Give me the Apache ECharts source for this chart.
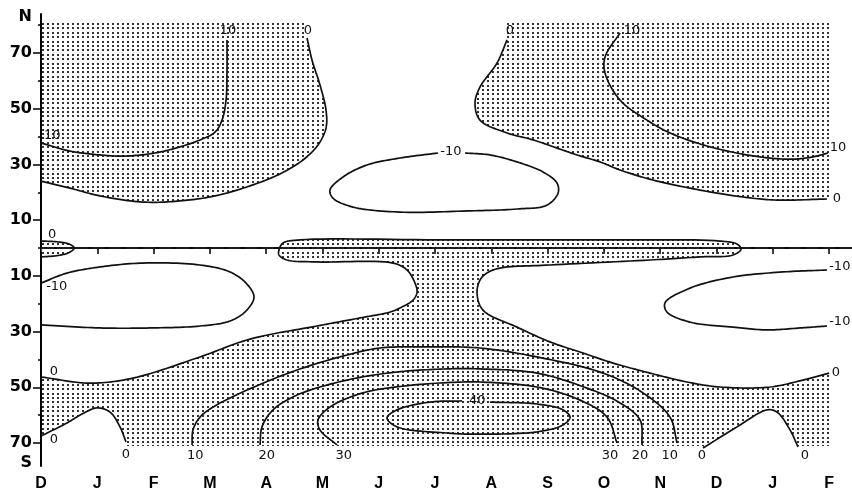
<!DOCTYPE html>
<html><head><meta charset="utf-8">
<script src="https://cdn.jsdelivr.net/npm/echarts@6/dist/echarts.min.js"></script>
<style>html,body{margin:0;padding:0;background:#fff}#c{width:852px;height:499px}</style>
</head><body><div id="c"></div>
<script>
// ---- axis labels ----
const months = ['D','J','F','M','A','M','J','J','A','S','O','N','D','J','F'];
const monthTicks = [0,1,2,3,4,5,6,7,8,9,10,11,12,13,14];
const latLabelValues = [-70,-50,-30,-10,10,30,50,70];
const latMinorTicks = [-70,-60,-50,-40,-30,-20,-10,0,10,20,30,40,50,60,70,80];
const poleLabels = [[82.9,'N'],[-77.2,'S']];

// ---- contours: [month index (0 = Dec), latitude (+N / -S)] ----
const c_n0_west = [[0,24.0],[0.515,21.5],[1.048,18.7],[1.812,16.5],[2.469,16.9],[3.091,18.7],[3.713,22.3],[4.246,26.6],[4.654,31.6],[4.921,37.0],[5.063,43.1],[5.063,49.5],[4.956,58.5],[4.814,67.5],[4.726,75.4]];
const c_n10_west = [[0,37.7],[0.515,34.8],[1.048,33.4],[1.492,33.0],[2.025,34.1],[2.469,36.3],[2.825,38.8],[3.091,41.6],[3.216,45.9],[3.287,53.1],[3.304,63.9],[3.304,74.7]];
const c_n0_east = [[8.279,74.7],[8.101,66.4],[7.799,57.8],[7.710,52.0],[7.799,45.9],[8.279,41.3],[8.740,38.8],[9.522,33.4],[9.931,30.9],[10.286,28.0],[10.872,24.4],[11.707,20.8],[12.471,18.3],[13.075,17.2],[13.963,17.6]];
const c_n10_east = [[10.286,77.2],[10.020,68.6],[10.020,62.8],[10.286,53.1],[10.766,45.9],[11.174,41.3],[11.885,36.3],[12.773,32.7],[13.359,31.9],[13.715,32.7],[13.981,34.1]];
const c_n_m10 = [[7.532,34.1],[7.977,33.4],[8.456,30.9],[8.918,27.3],[9.167,23.3],[9.185,19.7],[8.989,15.4],[8.456,14.0],[7.568,13.3],[6.378,12.9],[5.543,14.7],[5.187,17.9],[5.134,20.8],[5.365,25.5],[5.791,29.8],[6.378,32.3],[7.053,34.1]];
const c_equator = [[0,0],[14.407,0]];
const c_s0_eqlobe = [[0,2.5],[0.3,2.2],[0.5,1.4],[0.59,0],[0.5,-1.6],[0.3,-2.7],[0,-3.2]];
const c_s0_main = [[0,-46.3],[0.870,-48.5],[1.634,-46.7],[2.825,-39.1],[3.713,-32.7],[4.903,-28.0],[5.667,-25.1],[6.200,-23.0],[6.378,-21.5],[6.609,-18.7],[6.680,-15.8],[6.644,-12.6],[6.502,-7.9],[6.253,-5.4],[4.903,-5.0],[4.370,-4.3],[4.228,-2.5],[4.228,-0.7],[4.299,1.8],[4.601,2.9],[7.266,2.9],[9.931,2.9],[12.062,2.5],[12.365,1.4],[12.436,-0.4],[12.293,-2.5],[11.707,-3.2],[10.819,-4.3],[9.042,-6.1],[8.154,-7.2],[7.92,-9.0],[7.799,-11.5],[7.746,-16.2],[7.852,-22.3],[8.456,-28.4],[9.042,-33.7],[9.629,-37.7],[10.162,-41.3],[10.819,-44.9],[11.476,-48.1],[12.062,-49.9],[12.951,-49.9],[13.537,-47.4],[14,-44.9]];
const c_s0_lobe_w = [[0,-67.5],[0.462,-62.8],[0.728,-59.6],[0.995,-57.4],[1.226,-58.9],[1.403,-64.2],[1.510,-69.6]];
const c_s0_lobe_e = [[11.761,-71.8],[12.365,-64.2],[12.897,-58.1],[13.075,-58.9],[13.306,-65.3],[13.448,-71.4]];
const c_s_m10_w = [[0,-12.6],[0.462,-9.0],[1.048,-6.8],[1.812,-5.4],[2.825,-6.1],[3.358,-8.6],[3.642,-12.6],[3.784,-17.6],[3.642,-22.6],[3.358,-26.2],[2.825,-28.0],[1.936,-28.7],[1.048,-28.7],[0,-27.6]];
const c_s_m10_e = [[13.963,-7.9],[13.182,-8.6],[12.293,-10.4],[11.530,-14.4],[11.085,-19.7],[11.121,-23.0],[11.530,-26.6],[12.293,-28.4],[12.897,-29.4],[13.484,-28.7],[13.963,-28.0]];
const c_s10 = [[2.683,-70.7],[2.700,-65.3],[2.825,-60.7],[3.056,-57.1],[3.660,-51.0],[4.548,-43.8],[5.436,-38.4],[6.022,-35.9],[6.911,-35.5],[7.799,-35.9],[8.811,-39.1],[9.984,-44.9],[10.694,-52.0],[11.174,-60.7],[11.299,-70.0]];
const c_s20 = [[3.891,-70.7],[3.926,-64.2],[4.122,-58.1],[4.548,-52.8],[5.436,-47.4],[6.324,-44.5],[7.213,-43.4],[7.799,-43.4],[8.811,-44.9],[9.700,-50.3],[10.286,-55.6],[10.641,-61.7],[10.677,-70.7]];
const c_s30 = [[5.258,-70.7],[4.956,-65.3],[4.921,-61.7],[5.134,-57.1],[5.720,-52.0],[6.609,-49.2],[7.497,-48.1],[7.799,-48.1],[8.811,-49.9],[9.575,-54.6],[10.055,-60.7],[10.233,-70.0]];
const c_s40 = [[7.977,-55.3],[8.811,-56.0],[9.273,-58.1],[9.398,-60.7],[9.273,-63.5],[8.811,-66.0],[7.621,-66.8],[7.213,-66.4],[6.324,-64.2],[6.147,-61.0],[6.324,-58.1],[6.911,-55.3],[7.48,-54.9]];

// stippled (positive) region extents
const stippleTop = 81, stippleBottom = -71.1, stippleRight = 14;

// contour value labels: [month, lat, text]
const contourLabels = [
  [0.2,40.2,'10'],[3.32,78.2,'10'],[4.74,78.2,'0'],[8.33,78.2,'0'],[10.50,78.2,'10'],
  [7.28,34.5,'-10'],[14.16,35.9,'10'],[14.14,17.9,'0'],[0.2,4.7,'0'],
  [0.28,-14.0,'-10'],[14.19,-6.8,'-10'],[14.19,-26.6,'-10'],
  [0.23,-44.2,'0'],[14.12,-44.9,'0'],[7.75,-54.9,'40'],
  [0.23,-68.9,'0'],[1.51,-74.3,'0'],[2.74,-74.7,'10'],[4.01,-74.7,'20'],[5.38,-74.7,'30'],
  [10.11,-74.7,'30'],[10.64,-74.7,'20'],[11.17,-74.7,'10'],[11.74,-74.7,'0'],[13.57,-74.7,'0']
];

// ---- build shapes from the contour arrays ----
const rev = a => a.slice().reverse();
const fills = [
  [{pts:c_n0_west,s:true},{pts:[[c_n0_west[c_n0_west.length-1][0],stippleTop],[0,stippleTop]],s:false}],
  [{pts:c_n0_east,s:true},{pts:[[stippleRight,c_n0_east[c_n0_east.length-1][1]],[stippleRight,stippleTop],[c_n0_east[0][0],stippleTop]],s:false}],
  [{pts:c_s0_main,s:true},
   {pts:[[stippleRight,stippleBottom],[c_s0_lobe_e[c_s0_lobe_e.length-1][0],stippleBottom]],s:false},
   {pts:rev(c_s0_lobe_e),s:true},
   {pts:[[c_s0_lobe_e[0][0],stippleBottom],[c_s0_lobe_w[c_s0_lobe_w.length-1][0],stippleBottom]],s:false},
   {pts:rev(c_s0_lobe_w),s:true}],
  [{pts:c_s0_eqlobe,s:true}]
];
const lines = [c_equator,c_n0_west,c_n10_west,c_n0_east,c_n10_east,c_n_m10,c_s0_eqlobe,c_s0_main,c_s0_lobe_w,c_s0_lobe_e,c_s_m10_w,c_s_m10_e,c_s10,c_s20,c_s30,c_s40];

// centripetal Catmull-Rom curve through screen points (rendering only)
function spline(p){
  const n = p.length; if (n < 3) return p.slice();
  const ext = [[2*p[0][0]-p[1][0], 2*p[0][1]-p[1][1]]].concat(p, [[2*p[n-1][0]-p[n-2][0], 2*p[n-1][1]-p[n-2][1]]]);
  const d = (a,b) => Math.max(1e-4, Math.pow(Math.hypot(b[0]-a[0], b[1]-a[1]), 0.5));
  const lerp = (a,b,ta,tb,t) => { const w = (t-ta)/(tb-ta); return [a[0]+(b[0]-a[0])*w, a[1]+(b[1]-a[1])*w]; };
  const out = [];
  for (let i = 1; i < ext.length-2; i++){
    const P0=ext[i-1], P1=ext[i], P2=ext[i+1], P3=ext[i+2];
    const t0=0, t1=t0+d(P0,P1), t2=t1+d(P1,P2), t3=t2+d(P2,P3);
    const steps = 14;
    for (let s = 0; s < steps; s++){
      const t = t1 + (t2-t1)*s/steps;
      const A1=lerp(P0,P1,t0,t1,t), A2=lerp(P1,P2,t1,t2,t), A3=lerp(P2,P3,t2,t3,t);
      const B1=lerp(A1,A2,t0,t2,t), B2=lerp(A2,A3,t1,t3,t);
      out.push(lerp(B1,B2,t1,t2,t));
    }
  }
  out.push(p[n-1]);
  return out;
}

const pat = document.createElement('canvas'); pat.width = 5; pat.height = 22;
(function(){ const g = pat.getContext('2d'); g.fillStyle = '#333'; [0,4,9,13,18].forEach(y => g.fillRect(2, y+1, 2, 2)); })();

const chart = echarts.init(document.getElementById('c'), null, {renderer:'canvas'});
chart.setOption({
  animation: false,
  backgroundColor: '#fff',
  grid: {left: 41, right: 0, top: 14, bottom: 33},
  xAxis: [{
    type: 'value', min: 0, max: 14.407, position: 'bottom',
    axisLine: {show: true, lineStyle: {color: '#000', width: 2}},
    axisTick: {show: true, customValues: monthTicks, length: 6, lineStyle: {color: '#000', width: 1.5}},
    axisLabel: {customValues: monthTicks, formatter: v => months[Math.round(v)], margin: 10,
      color: '#000', fontSize: 16, fontWeight: 'bold', fontFamily: '"Liberation Sans", Arial, sans-serif'},
    splitLine: {show: false}
  },{
    type: 'value', min: 0, max: 14.407, position: 'top',
    axisLine: {show: true, lineStyle: {color: '#333', width: 1.5, type: [12,5]}},
    axisTick: {show: true, inside: true, customValues: monthTicks, length: 4, lineStyle: {color: '#333', width: 1}},
    axisLabel: {show: false}, splitLine: {show: false}
  }],
  yAxis: [{
    type: 'value', min: -78.25, max: 84, position: 'left',
    axisLine: {show: true, lineStyle: {color: '#000', width: 2}},
    axisTick: {show: true, customValues: latLabelValues, length: 8, lineStyle: {color: '#000', width: 1.5}},
    axisLabel: {customValues: latLabelValues.concat(poleLabels.map(p => p[0])),
      formatter: v => { const p = poleLabels.find(q => q[0] === v); return p ? p[1] : String(Math.abs(v)); },
      margin: 9, color: '#000', fontSize: 16, fontWeight: 'bold', fontFamily: '"DejaVu Sans", sans-serif'},
    splitLine: {show: false}
  },{
    type: 'value', min: -78.25, max: 84, position: 'left', offset: 0,
    axisLine: {show: false},
    axisTick: {show: true, customValues: latMinorTicks, length: 3, lineStyle: {color: '#000', width: 1.5}},
    axisLabel: {show: false}, splitLine: {show: false}
  }],
  series: [{
    type: 'custom', z: 1, silent: true,
    data: fills.map(() => [0, 0]),
    renderItem: (params, api) => {
      let pts = [];
      fills[params.dataIndex].forEach(part => {
        const px = part.pts.map(p => api.coord(p));
        pts = pts.concat(part.s ? spline(px) : px);
      });
      return {type: 'polygon', shape: {points: pts}, style: {fill: {image: pat, repeat: 'repeat'}, stroke: 'none'}};
    }
  },{
    type: 'custom', z: 2, silent: true,
    data: lines.map(() => [0, 0]),
    renderItem: (params, api) => {
      const px = lines[params.dataIndex].map(p => api.coord(p));
      return {type: 'polyline', shape: {points: spline(px)},
        style: {fill: 'none', stroke: '#111', lineWidth: params.dataIndex === 0 ? 1.2 : 1.7, lineJoin: 'round'}};
    }
  },{
    type: 'custom', z: 3, silent: true,
    data: contourLabels.map(l => [l[0], l[1]]),
    renderItem: (params, api) => {
      const l = contourLabels[params.dataIndex];
      const p = api.coord([l[0], l[1]]);
      return {type: 'text', x: p[0], y: p[1],
        style: {text: l[2], fill: '#111', font: '13px "DejaVu Sans", sans-serif', align: 'center', verticalAlign: 'middle'}};
    }
  }]
});
</script></body></html>
